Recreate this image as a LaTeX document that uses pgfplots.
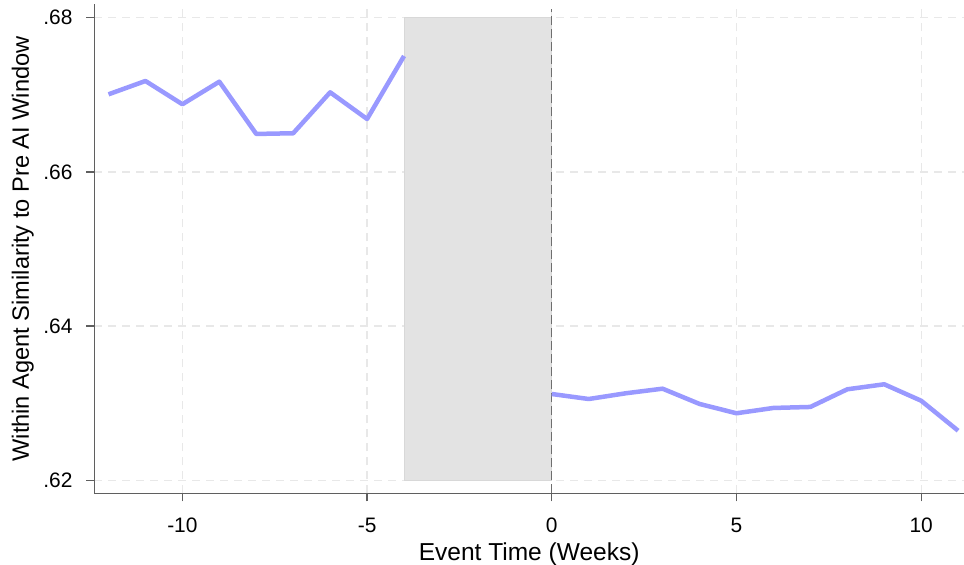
\documentclass[border=0pt]{standalone}
\usepackage{pgfplots}
\pgfplotsset{compat=1.18}
\usepackage{fontspec}
\setmainfont{Liberation Sans}
\definecolor{linecol}{RGB}{153,153,255}
\definecolor{shade}{RGB}{227,227,227}
\definecolor{shadeedge}{RGB}{216,216,216}
\definecolor{gridcol}{RGB}{232,232,232}
\definecolor{axcol}{RGB}{95,95,95}
\definecolor{xlinecol}{RGB}{110,110,110}
\begin{document}
\begin{tikzpicture}
\useasboundingbox (0,0) rectangle (964bp,565bp);
\begin{axis}[
  at={(94.3bp,71.7bp)}, anchor=south west,
  scale only axis, width=869.7bp, height=488.8bp,
  xmin=-12.385, xmax=11.16, ymin=0.61831, ymax=0.68171,
  axis x line*=bottom, axis y line*=left,
  x axis line style={-, color=axcol, line width=1.3bp},
  y axis line style={-, color=axcol, line width=1.3bp},
  xtick={-10,-5,0,5,10}, xticklabels={-10,-5,0,5,10},
  ytick={0.62,0.64,0.66,0.68}, yticklabels={.62,.64,.66,.68},
  tick align=outside, major tick length=8bp,
  tick style={color=axcol, line width=1.3bp},
  grid=major,
  major grid style={color=gridcol, line width=1.3bp, dash pattern=on 8bp off 6bp},
  xticklabel style={font=\fontsize{21}{25}\selectfont, anchor=north, inner sep=0pt},
  yticklabel style={font=\fontsize{21}{25}\selectfont, anchor=east, inner sep=0pt},
  xticklabel shift=16.5bp,
  yticklabel shift=13.6bp,
  xlabel={Event Time (Weeks)},
  ylabel={Within Agent Similarity to Pre AI Window},
  xlabel style={font=\fontsize{24.6}{29}\selectfont, at={([yshift=-67.5bp]axis description cs:0.5,0)}, anchor=base, inner sep=0pt},
  ylabel style={font=\fontsize{23.7}{28}\selectfont, at={([xshift=-65.5bp]axis description cs:0,0.5)}, anchor=base, inner sep=0pt},
]
\addplot[fill=shade, draw=shadeedge, line width=0.6bp] coordinates {(-4,0.62) (-4,0.68) (0,0.68) (0,0.62)} -- cycle;
\addplot[color=xlinecol, line width=1.3bp, dash pattern=on 9bp off 4bp] coordinates {(0,0.61831) (0,0.6811)};
\addplot[color=linecol, line width=4.5bp, line join=round] coordinates {
(-12,0.67006) (-11,0.67179) (-10,0.66877) (-9,0.67170) (-8,0.66492)
(-7,0.66501) (-6,0.67032) (-5,0.66686) (-4,0.67503)};
\addplot[color=linecol, line width=4.5bp, line join=round] coordinates {
(0,0.63119) (1,0.63054) (2,0.63128) (3,0.63188) (4,0.62990) (5,0.62869)
(6,0.62938) (7,0.62951) (8,0.63180) (9,0.63245) (10,0.63032) (11,0.62643)};
\end{axis}
\end{tikzpicture}
\end{document}
